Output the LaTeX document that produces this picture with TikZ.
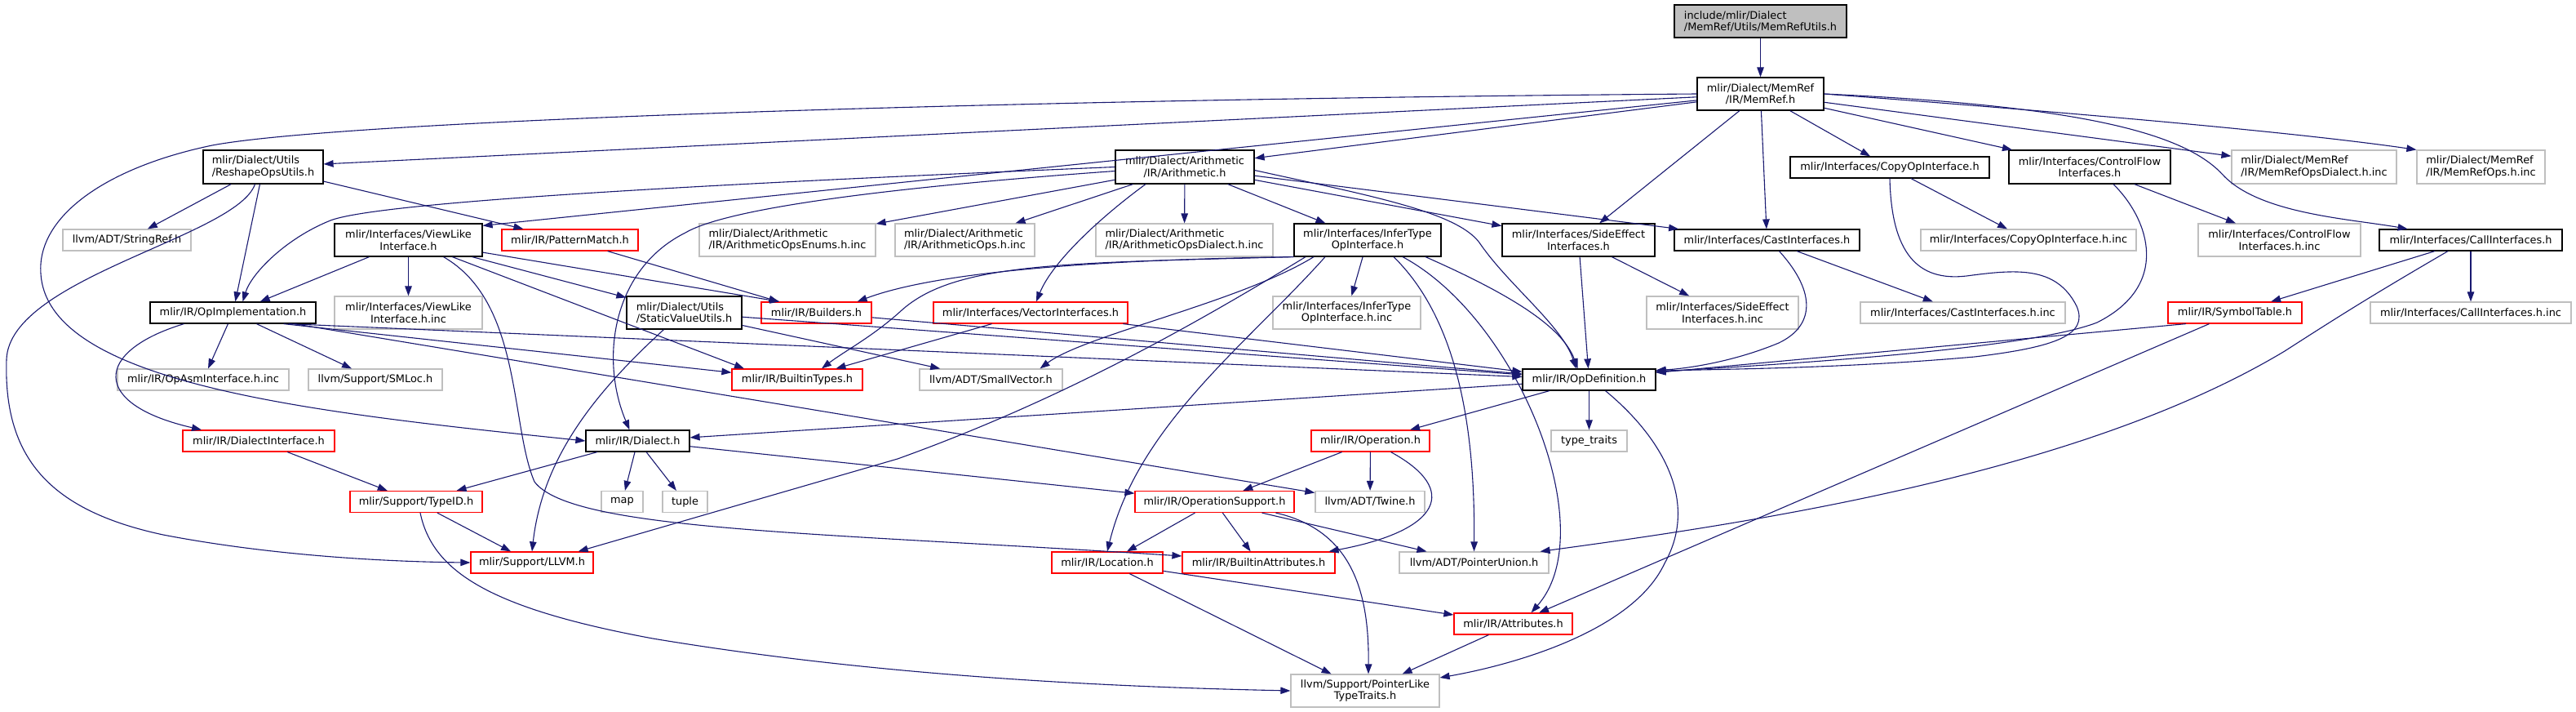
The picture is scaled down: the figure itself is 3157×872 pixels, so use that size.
\documentclass[tikz,border=0pt]{standalone}
\usepackage{fontspec}
\setmainfont{DejaVu Sans}
\usetikzlibrary{arrows.meta}
\definecolor{edgecol}{HTML}{191970}
\definecolor{graybd}{HTML}{BFBFBF}
\definecolor{redbd}{HTML}{FF0000}
\definecolor{rootfill}{HTML}{BFBFBF}
\tikzset{
 box/.style={draw, line width=1.2pt, inner sep=0pt, fill=white, font=\fontsize{12.9}{14.5}\selectfont, align=center},
 blk/.style={box, draw=black},
 gry/.style={box, draw=graybd},
 rd/.style={box, draw=redbd},
 rt/.style={box, draw=black, fill=rootfill},
 lft/.style={align=left},
 edge/.style={draw=edgecol, line width=1.1pt, -{Triangle[length=12pt,width=8.5pt]}},
}
\newcommand{\gnode}[6]{\node[#1, minimum width=#4pt, minimum height=#5pt] (#2) at (#3) {#6};}
\begin{document}
\begin{tikzpicture}[x=1pt,y=-1pt]
\useasboundingbox (0,0) rectangle (3157,872);
% nodes
\gnode{rt,lft}{root}{2157.5,26}{211}{40}{include/mlir/Dialect\\/MemRef/Utils/MemRefUtils.h}
\gnode{blk}{memref}{2157.5,115}{155}{40}{mlir/Dialect/MemRef\\/IR/MemRef.h}
\gnode{blk,lft}{reshape}{322.5,204.5}{147}{41}{mlir/Dialect/Utils\\/ReshapeOpsUtils.h}
\gnode{blk}{arith}{1452,204.5}{170}{41}{mlir/Dialect/Arithmetic\\/IR/Arithmetic.h}
\gnode{blk}{copyop}{2316,205}{244}{26}{mlir/Interfaces/CopyOpInterface.h}
\gnode{blk}{ctrlflow}{2561,204.5}{198}{41}{mlir/Interfaces/ControlFlow\\Interfaces.h}
\gnode{gry,lft}{mrdialect}{2836,204.5}{202}{41}{mlir/Dialect/MemRef\\/IR/MemRefOpsDialect.h.inc}
\gnode{gry,lft}{mrops}{3040.5,204.5}{157}{41}{mlir/Dialect/MemRef\\/IR/MemRefOps.h.inc}
\gnode{gry}{stringref}{155.5,294}{157}{26}{llvm/ADT/StringRef.h}
\gnode{blk}{viewlike}{500.5,294}{181}{40}{mlir/Interfaces/ViewLike\\Interface.h}
\gnode{rd}{patternmatch}{698.5,294}{167}{26}{mlir/IR/PatternMatch.h}
\gnode{gry,lft}{arenums}{965,294}{216}{40}{mlir/Dialect/Arithmetic\\/IR/ArithmeticOpsEnums.h.inc}
\gnode{gry,lft}{arops}{1182.5,294}{171}{40}{mlir/Dialect/Arithmetic\\/IR/ArithmeticOps.h.inc}
\gnode{gry,lft}{ardialect}{1451.5,294}{217}{40}{mlir/Dialect/Arithmetic\\/IR/ArithmeticOpsDialect.h.inc}
\gnode{blk}{infertype}{1676,294}{180}{40}{mlir/Interfaces/InferType\\OpInterface.h}
\gnode{blk}{sideeffect}{1934.5,294}{187}{40}{mlir/Interfaces/SideEffect\\Interfaces.h}
\gnode{blk}{cast}{2165.5,294}{227}{26}{mlir/Interfaces/CastInterfaces.h}
\gnode{gry}{copyinc}{2486,294}{264}{26}{mlir/Interfaces/CopyOpInterface.h.inc}
\gnode{gry}{ctrlinc}{2793.5,294}{199}{40}{mlir/Interfaces/ControlFlow\\Interfaces.h.inc}
\gnode{blk}{call}{3028,294}{224}{26}{mlir/Interfaces/CallInterfaces.h}
\gnode{blk}{opimpl}{285.5,383}{203}{26}{mlir/IR/OpImplementation.h}
\gnode{gry}{viewinc}{500.5,383}{181}{40}{mlir/Interfaces/ViewLike\\Interface.h.inc}
\gnode{blk,lft}{staticval}{838.5,383}{141}{40}{mlir/Dialect/Utils\\/StaticValueUtils.h}
\gnode{rd}{builders}{1000.5,383}{135}{26}{mlir/IR/Builders.h}
\gnode{rd}{vector}{1263,383}{238}{26}{mlir/Interfaces/VectorInterfaces.h}
\gnode{gry}{inferinc}{1650.5,383}{181}{40}{mlir/Interfaces/InferType\\OpInterface.h.inc}
\gnode{gry}{sideinc}{2111,383}{186}{40}{mlir/Interfaces/SideEffect\\Interfaces.h.inc}
\gnode{gry}{castinc}{2405.5,383}{251}{26}{mlir/Interfaces/CastInterfaces.h.inc}
\gnode{rd}{symtab}{2739,383}{164}{26}{mlir/IR/SymbolTable.h}
\gnode{gry}{callinc}{3028,383}{246}{26}{mlir/Interfaces/CallInterfaces.h.inc}
\gnode{gry}{opasm}{249,465}{210}{26}{mlir/IR/OpAsmInterface.h.inc}
\gnode{gry}{smloc}{460,465}{164}{26}{llvm/Support/SMLoc.h}
\gnode{rd}{btypes}{977,465}{160}{26}{mlir/IR/BuiltinTypes.h}
\gnode{gry}{smallvec}{1214.5,465}{175}{26}{llvm/ADT/SmallVector.h}
\gnode{blk}{opdef}{1947.5,465}{163}{26}{mlir/IR/OpDefinition.h}
\gnode{rd}{dialiface}{317,540}{186}{26}{mlir/IR/DialectInterface.h}
\gnode{blk}{dialect}{781.5,540}{127}{26}{mlir/IR/Dialect.h}
\gnode{rd}{operation}{1679.5,540}{145}{26}{mlir/IR/Operation.h}
\gnode{gry}{typetraits}{1947.5,540}{93}{26}{type\_traits}
\gnode{rd}{typeid}{510,614.5}{162}{26}{mlir/Support/TypeID.h}
\gnode{gry}{map}{762.5,614.5}{51}{26}{map}
\gnode{gry}{tuple}{839.5,614.5}{55}{26}{tuple}
\gnode{rd}{opsupport}{1488.5,614.5}{195}{26}{mlir/IR/OperationSupport.h}
\gnode{gry}{twine}{1679,614.5}{134}{26}{llvm/ADT/Twine.h}
\gnode{rd}{llvm}{652,689}{150}{26}{mlir/Support/LLVM.h}
\gnode{rd}{location}{1357,689}{136}{26}{mlir/IR/Location.h}
\gnode{rd}{battrs}{1542.5,689}{187}{26}{mlir/IR/BuiltinAttributes.h}
\gnode{gry}{ptrunion}{1806.5,689}{183}{26}{llvm/ADT/PointerUnion.h}
\gnode{rd}{attrs}{1854.5,764}{145}{26}{mlir/IR/Attributes.h}
\gnode{gry}{ptrlike}{1673,846}{182}{40}{llvm/Support/PointerLike\\TypeTraits.h}
% edges
\draw[edge] (root) -- (memref);
% memref
\draw[edge] (memref.west) .. controls (1200,122) and (420,148) .. (260,178) .. controls (130,205) and (45,265) .. (50,335) .. controls (58,470) and (380,505) .. (dialect.west);
\draw[edge] (memref) -- (reshape);
\draw[edge] (memref) -- ([yshift=-3pt]viewlike.north east);
\draw[edge] (memref) -- (arith);
\draw[edge] (memref) -- (sideeffect);
\draw[edge] (memref) -- (cast);
\draw[edge] (memref) -- (copyop);
\draw[edge] (memref) -- (ctrlflow);
\draw[edge] (memref) -- (mrdialect);
\draw[edge] (memref.east) .. controls (2500,135) and (2800,160) .. (mrops.north west);
\draw[edge] (memref.east) .. controls (2560,130) and (2680,165) .. (2725,215) .. controls (2770,262) and (2880,268) .. (call);
% reshape
\draw[edge] (reshape) -- (stringref);
\draw[edge] (reshape) -- (patternmatch);
\draw[edge] ([xshift=-4pt]reshape.south) -- (opimpl);
\draw[edge] ([xshift=-10pt]reshape.south) .. controls (290,290) and (12,340) .. (8,440) .. controls (4,560) and (60,625) .. (200,655) .. controls (330,680) and (470,688) .. (llvm.west);
% viewlike
\draw[edge] ([xshift=-48pt]viewlike.south) -- (opimpl);
\draw[edge] (viewlike) -- (viewinc);
\draw[edge] (viewlike) -- (staticval);
\draw[edge] (viewlike) -- ([xshift=-45pt]builders.north);
\draw[edge] (viewlike) -- ([xshift=-65pt]btypes.north);
\draw[edge] ([xshift=43pt]viewlike.south) .. controls (640,370) and (625,520) .. (655,590) .. controls (700,650) and (1000,652) .. ([yshift=8pt]battrs.west);
% patternmatch
\draw[edge] (patternmatch) -- (builders);
% arith
\draw[edge] (arith.west) .. controls (950,222) and (470,245) .. (405,270) .. controls (350,292) and (308,335) .. ([xshift=12pt]opimpl.north);
\draw[edge] ([yshift=-5pt]arith.west) .. controls (1150,225) and (900,250) .. (840,285) .. controls (750,330) and (735,440) .. ([xshift=-10pt]dialect.north);
\draw[edge] (arith) -- (arenums);
\draw[edge] (arith) -- (arops);
\draw[edge] (arith) -- (ardialect);
\draw[edge] (arith) -- (infertype);
\draw[edge] (arith) -- (sideeffect);
\draw[edge] (arith) -- (cast);
\draw[edge] ([yshift=-4pt]arith.east) .. controls (1680,240) and (1790,260) .. (1815,300) .. controls (1850,350) and (1915,400) .. ([xshift=-16pt]opdef.north);
\draw[edge] ([xshift=-48pt]arith.south) .. controls (1350,265) and (1290,320) .. ([xshift=7pt]vector.north);
% infertype
\draw[edge] (infertype.south west) .. controls (1350,318) and (1150,332) .. ([xshift=-18pt]builders.north east);
\draw[edge] (infertype.south west) .. controls (1300,322) and (1170,322) .. (1105,380) .. controls (1070,412) and (1035,430) .. ([xshift=30pt]btypes.north);
\draw[edge] ([xshift=-66pt]infertype.south) .. controls (1520,370) and (1330,410) .. ([xshift=60pt]smallvec.north);
\draw[edge] ([xshift=-76pt]infertype.south) .. controls (1460,400) and (1300,490) .. (1100,562) -- ([xshift=-19pt]llvm.north east);
\draw[edge] ([xshift=-52pt]infertype.south) .. controls (1530,420) and (1395,520) .. (location.north);
\draw[edge] (infertype) -- (inferinc);
\draw[edge] ([xshift=32pt]infertype.south) .. controls (1785,390) and (1808,520) .. (ptrunion.north);
\draw[edge] ([xshift=43pt]infertype.south) .. controls (1860,390) and (1965,650) .. ([xshift=22pt]attrs.north);
\draw[edge] ([xshift=71pt]infertype.south) .. controls (1850,360) and (1915,400) .. ([xshift=-14pt]opdef.north);
% sideeffect
\draw[edge] (sideeffect) -- (opdef);
\draw[edge] (sideeffect) -- (sideinc);
% vector, builders, staticval
\draw[edge] (vector) -- (btypes);
\draw[edge] (vector) -- (opdef);
\draw[edge] (builders) -- (opdef);
\draw[edge] (staticval) -- (opdef);
\draw[edge] (staticval) -- (smallvec);
\draw[edge] ([xshift=-25pt]staticval.south) .. controls (730,480) and (665,560) .. (llvm.north);
% opimpl
\draw[edge] ([xshift=-60pt]opimpl.south) .. controls (115,430) and (110,495) .. ([xshift=-70pt]dialiface.north);
\draw[edge] (opimpl) -- (opasm);
\draw[edge] (opimpl) -- (smloc);
\draw[edge] ([xshift=62pt]opimpl.south) -- (btypes);
\draw[edge] ([xshift=68pt]opimpl.south) -- (opdef);
\draw[edge] ([xshift=75pt]opimpl.south) -- (twine);
% cast, copyop, ctrlflow
\draw[edge] (cast) -- (castinc);
\draw[edge] ([xshift=15pt]cast.south) .. controls (2228,360) and (2222,400) .. (2180,420) .. controls (2120,445) and (2060,452) .. ([yshift=-2pt]opdef.north east);
\draw[edge] (copyop) -- (copyinc);
\draw[edge] (copyop.south) .. controls (2318,310) and (2350,345) .. (2410,338) .. controls (2470,330) and (2520,325) .. (2545,375) .. controls (2560,410) and (2520,425) .. (2420,437) .. controls (2250,452) and (2100,452) .. ([yshift=-3pt]opdef.north east);
\draw[edge] (ctrlflow) -- (ctrlinc);
\draw[edge] ([xshift=29pt]ctrlflow.south) .. controls (2635,270) and (2660,350) .. (2570,395) .. controls (2480,430) and (2150,448) .. ([yshift=-4pt]opdef.north east);
% call, symtab
\draw[edge] (call) -- (symtab);
\draw[edge] (call) -- (callinc);
\draw[edge] ([xshift=-28pt]call.south) .. controls (2910,360) and (2870,385) .. (2800,430) .. controls (2550,580) and (2150,640) .. ([xshift=-11pt]ptrunion.north east);
\draw[edge] ([xshift=-60pt]symtab.south) -- ([yshift=-5pt]opdef.north east);
\draw[edge] (symtab) -- (attrs);
% opdef
\draw[edge] (opdef) -- (dialect);
\draw[edge] (opdef) -- (operation);
\draw[edge] (opdef) -- (typetraits);
\draw[edge] ([xshift=20pt]opdef.south) .. controls (2030,530) and (2085,610) .. (2040,690) .. controls (2000,775) and (1850,815) .. ([yshift=16pt]ptrlike.east);
% dialect
\draw[edge] (dialect) -- (typeid);
\draw[edge] (dialect) -- (map);
\draw[edge] (dialect) -- (tuple);
\draw[edge] (dialect) -- (opsupport);
\draw[edge] (dialiface) -- (typeid);
% typeid
\draw[edge] (typeid) -- (llvm);
\draw[edge] ([xshift=5pt]typeid.south) .. controls (530,700) and (600,745) .. (800,782) .. controls (1100,832) and (1400,842) .. (ptrlike.west);
% operation
\draw[edge] (operation) -- (opsupport);
\draw[edge] (operation) -- (twine);
\draw[edge] ([xshift=25pt]operation.south) .. controls (1790,600) and (1765,650) .. ([xshift=-8pt]battrs.north east);
% opsupport
\draw[edge] (opsupport) -- (location);
\draw[edge] (opsupport) -- (battrs);
\draw[edge] (opsupport) -- (ptrunion);
\draw[edge] ([xshift=75pt]opsupport.south) .. controls (1660,650) and (1678,730) .. ([xshift=4pt]ptrlike.north);
% location, attrs
\draw[edge] (location) -- (ptrlike);
\draw[edge] (location) -- (attrs);
\draw[edge] (attrs) -- (ptrlike);
\end{tikzpicture}
\end{document}
